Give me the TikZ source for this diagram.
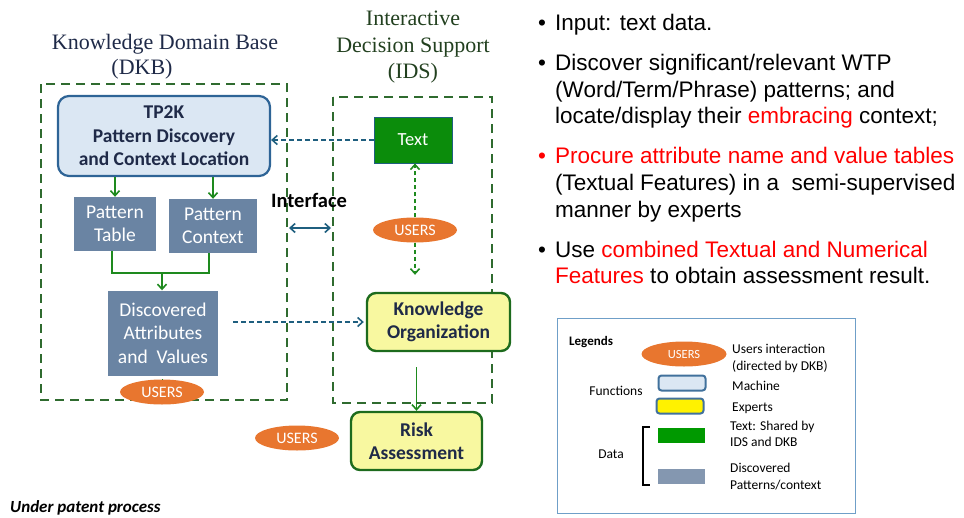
\documentclass[tikz,border=0pt]{standalone}
\usepackage{fontspec}
\setmainfont{Carlito}
\newfontfamily\arialf{Liberation Sans}
\newfontfamily\timesf{Liberation Serif}
\usetikzlibrary{arrows.meta,shapes.geometric}
\definecolor{dgreen}{HTML}{2F6B2F}
\definecolor{agreen}{HTML}{1E8A1E}
\definecolor{navyt}{HTML}{1F2A48}
\definecolor{tpfill}{HTML}{DBE7F3}
\definecolor{tpdraw}{HTML}{2E6496}
\definecolor{slate}{HTML}{6A84A3}
\definecolor{kofill}{HTML}{F8F8A0}
\definecolor{kodraw}{HTML}{1D6B1D}
\definecolor{txtgreen}{HTML}{0B8C0B}
\definecolor{usr}{HTML}{E8762F}
\definecolor{teal}{HTML}{1F5F7F}
\definecolor{idst}{HTML}{22401F}
\definecolor{legbox}{HTML}{6F9FC8}
\definecolor{legdraw}{HTML}{41719C}
\definecolor{leggrey}{HTML}{8497B0}
\definecolor{leggreen}{HTML}{009900}
\definecolor{redt}{HTML}{FF0000}
\begin{document}
\begin{tikzpicture}[x=1pt,y=-1pt,
  container/.style={draw=dgreen,line width=2.2pt,dash pattern=on 9pt off 6pt},
  funcbox/.style={draw=tpdraw,fill=tpfill,rounded corners=11pt,line width=2.2pt,
    text=navyt,align=center,inner sep=0pt,font=\bfseries\fontsize{19.5}{23.5}\selectfont},
  expbox/.style={draw=kodraw,fill=kofill,rounded corners=9pt,line width=2.4pt,
    text=navyt,align=center,inner sep=0pt,font=\bfseries\fontsize{19.5}{23.5}\selectfont},
  databox/.style={fill=slate,text=white,align=center,inner sep=0pt,
    font=\fontsize{19.5}{23.5}\selectfont},
  users/.style={ellipse,fill=usr,text=white,inner sep=0pt,
    minimum width=84pt,minimum height=25pt,font=\fontsize{16}{16}\selectfont},
  garrow/.style={draw=agreen,line width=1.6pt,-{Straight Barb[length=5pt,width=9pt]}},
  gline/.style={draw=agreen,line width=1.6pt},
  gdash/.style={draw=agreen,line width=1.6pt,dash pattern=on 4pt off 3pt,-{Straight Barb[length=5pt,width=9pt]}},
  bdash/.style={draw=teal,line width=1.6pt,dash pattern=on 5pt off 3pt,-{Straight Barb[length=5pt,width=9pt]}},
  bul/.style={inner sep=0pt,anchor=base west,font=\arialf\fontsize{22.5}{26.5}\selectfont},
  serift/.style={inner sep=0pt,anchor=base,font=\timesf\fontsize{22}{26}\selectfont},
  legt/.style={inner sep=0pt,anchor=west,text height=0.7em,text depth=0.2em,
    font=\fontsize{13.5}{15}\selectfont},
  legsw/.style={minimum width=47pt,minimum height=15pt,inner sep=0pt}
]
\useasboundingbox (0,0) rectangle (964,517);

% titles
\node[serift,text=navyt] (tdkb1) at (165,49) {Knowledge Domain Base};
\node[serift,text=navyt] (tdkb2) at (142,74) {(DKB)};
\node[serift,text=idst] (tids1) at (413,25) {Interactive};
\node[serift,text=idst] (tids2) at (413,52) {Decision Support};
\node[serift,text=idst] (tids3) at (413,78) {(IDS)};

% containers
\draw[container] (41,84) rectangle (287,400);
\draw[container] (333,97) rectangle (492,403);

% nodes
\node[funcbox,minimum width=212pt,minimum height=80pt] (tp) at (164,136)
  {TP2K\\Pattern Discovery\\and Context Location};
\node[databox,minimum width=82pt,minimum height=54pt] (pt) at (115,224) {Pattern\\Table};
\node[databox,minimum width=88pt,minimum height=54pt] (pc) at (213,226) {Pattern\\Context};
\node[databox,minimum width=110pt,minimum height=85pt] (disc) at (163,333)
  {Discovered\\Attributes\\and\ \ Values};
\node[users] (u1) at (162,392) {USERS};
\node[users] (u2) at (415,230) {USERS};
\node[users] (u3) at (297,438) {USERS};
\node[fill=txtgreen,draw=teal,line width=0.8pt,minimum width=78pt,minimum height=46pt,
  text=white,inner sep=0pt,font=\fontsize{18.5}{20}\selectfont] (txt) at (413,140) {Text};
\node[expbox,minimum width=143pt,minimum height=58pt] (ko) at (438.5,322) {Knowledge\\Organization};
\node[expbox,minimum width=131pt,minimum height=58pt] (risk) at (416.5,441) {Risk\\Assessment};
\node[inner sep=0pt,font=\bfseries\fontsize{20.5}{22}\selectfont] (iface) at (309,200) {Interface};
\coordinate (ifl) at (289,228);
\coordinate (ifr) at (331,228);

% connectors
\draw[garrow] (tp.south -| pt.north) -- (pt.north);
\draw[garrow] (tp.south -| pc.north) -- (pc.north);
\coordinate (mjoin) at (162,273);
\draw[gline] ([xshift=-3pt]pt.south) |- (mjoin) -| ([xshift=-4pt]pc.south);
\draw[garrow] (mjoin) -- (mjoin |- disc.north);
\draw[draw=agreen,line width=1.2pt] (u1.north -| disc.south) -- (u1.north);
\draw[bdash] (txt.west) -- (txt.west -| tp.east);
\draw[bdash,shorten <=15pt,shorten >=2pt] (ko.west -| disc.east) -- (ko.west);
\draw[gdash] (u2.north) -- (u2.north |- txt.south);
\draw[gdash,shorten >=17pt] (u2.south) -- (u2.south |- ko.north);
\draw[garrow,shorten <=15pt] (ko.south -| risk.north) -- (risk.north);
\draw[draw=teal,line width=1.6pt,{Straight Barb[length=5pt,width=9pt]}-{Straight Barb[length=5pt,width=9pt]}] (ifl) -- (ifr);

% bullets
\node[bul] (d1) at (538,30) {•};
\node[bul] (l1) at (555,30) {Input: text data.};
\node[bul] (d2) at (538,70) {•};
\node[bul] (l2) at (555,70) {Discover significant/relevant WTP};
\node[bul] (l3) at (555,97) {(Word/Term/Phrase) patterns; and};
\node[bul] (l4) at (555,123) {locate/display their \textcolor{redt}{embracing} context;};
\node[bul,text=redt] (d3) at (538,163) {•};
\node[bul,text=redt] (l5) at (555,163) {Procure attribute name and value tables};
\node[bul] (l6) at (555,190) {(Textual Features) in a\ \ semi-supervised};
\node[bul] (l7) at (555,217) {manner by experts};
\node[bul] (d4) at (538,257) {•};
\node[bul] (l8) at (555,257) {Use \textcolor{redt}{combined Textual and Numerical}};
\node[bul] (l9) at (555,283) {\textcolor{redt}{Features} to obtain assessment result.};

% legend
\draw[draw=legbox,line width=1pt] (557,318) rectangle (855,513);
\node[legt,font=\bfseries\fontsize{13}{15}\selectfont] (lg) at (569,343) {Legends};
\node[users,minimum width=85pt,minimum height=25pt,font=\fontsize{12.5}{13}\selectfont] (lu) at (684,354) {USERS};
\node[legt] (lu1) at (732,351) {Users interaction};
\node[legt] (lu2) at (732,368) {(directed by DKB)};
\node[legsw,draw=legdraw,fill=tpfill,rounded corners=3pt,line width=2pt] (lm) at (682,383) {};
\node[legt] (lmt) at (732,388) {Machine};
\node[legsw,draw=legdraw,fill=yellow,rounded corners=3pt,line width=2pt] (le) at (680,406) {};
\node[legt] (let) at (732,409) {Experts};
\node[legt,anchor=center] (lf) at (616,393) {Functions};
\node[legsw,fill=leggreen] (lgr) at (681,435.5) {};
\node[legt] (lt1) at (730,428) {Text: Shared by};
\node[legt] (lt2) at (730,444) {IDS and DKB};
\node[legsw,fill=leggrey] (lgy) at (681,476.5) {};
\node[legt] (ld1) at (730,470) {Discovered};
\node[legt] (ld2) at (730,487) {Patterns/context};
\node[legt,anchor=center] (ldata) at (611,456) {Data};
\draw[line width=1.4pt] (650,427) -- (643,427) -- (643,485) -- (650,485);

% footer
\node[inner sep=0pt,anchor=base west,font=\bfseries\itshape\fontsize{17}{19}\selectfont] (foot) at (10,512) {Under patent process};
\end{tikzpicture}
\end{document}
